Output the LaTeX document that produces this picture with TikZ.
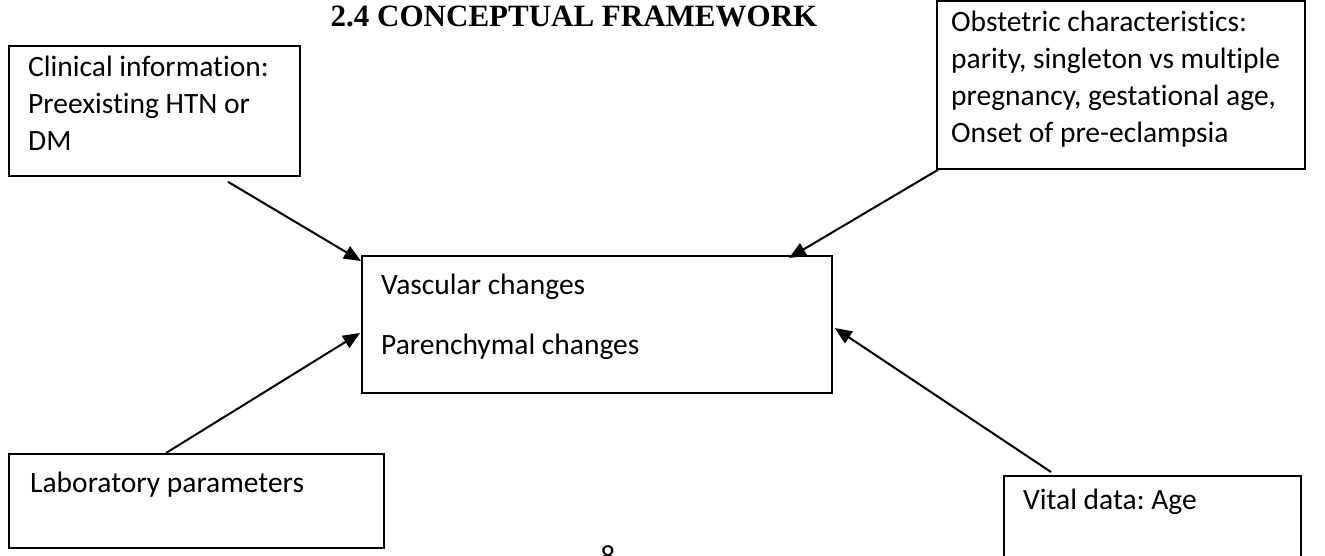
\documentclass[tikz,border=0pt]{standalone}
\usepackage{fontspec}
\setmainfont{Carlito}[Ligatures={NoCommon}]
\newfontfamily\titlefont{Liberation Serif}
\usetikzlibrary{arrows.meta,calc}
\frenchspacing
\begin{document}
\begin{tikzpicture}[x=1pt,y=-1pt,
  box/.style={draw,line width=1.8pt,inner sep=0pt,anchor=north west},
  txt/.style={inner sep=0pt,anchor=north west,align=left,font=\fontsize{29.5}{37}\selectfont},
  arr/.style={line width=2pt,-{Triangle[length=17pt,width=14pt]}}]
\useasboundingbox (0,0) rectangle (1325,556);
% title
\node[font=\titlefont\bfseries\fontsize{31}{31}\selectfont,inner sep=0pt] (title) at (574,16) {2.4 CONCEPTUAL FRAMEWORK};
% boxes
\node[box,minimum width=291pt,minimum height=130pt] (clin) at (8,45) {};
\node[box,minimum width=368pt,minimum height=168pt] (obst) at (936,0) {};
\node[box,minimum width=470pt,minimum height=137pt] (cent) at (361,255) {};
\node[box,minimum width=375pt,minimum height=94pt] (lab) at (8,453) {};
\node[box,minimum width=297pt,minimum height=120pt] (vital) at (1003,475) {};
% texts
\node[txt] (clintxt) at (28,56) {Clinical information:\\Preexisting HTN or\\DM};
\node[txt] (obsttxt) at (951,11) {Obstetric characteristics:\\parity, singleton vs multiple\\pregnancy, gestational age,\\Onset of pre-eclampsia};
\node[txt] (centtxt) at (381,274) {Vascular changes\\[23pt]Parenchymal changes};
\node[txt] (labtxt) at (30,472) {Laboratory parameters};
\node[txt] (vitaltxt) at (1023,489) {Vital data: Age};
\node[inner sep=0pt,anchor=north,font=\fontsize{29}{29}\selectfont] (pg) at (608,545) {8};
% connector end points
\coordinate (c1s) at ($(clin.south west)+(220,5)$);
\coordinate (c1e) at ($(cent.north west)+(0,6)$);
\coordinate (c2s) at ($(obst.south west)+(2,0)$);
\coordinate (c2e) at ($(cent.north west)+(428,3)$);
\coordinate (c3s) at ($(lab.north west)+(158,0)$);
\coordinate (c3e) at ($(cent.north west)+(-1,78)$);
\coordinate (c4s) at ($(vital.north west)+(48,-3)$);
\coordinate (c4e) at ($(cent.north east)+(2,73)$);
\draw[arr] (c1s) -- (c1e);
\draw[arr] (c2s) -- (c2e);
\draw[arr] (c3s) -- (c3e);
\draw[arr] (c4s) -- (c4e);
\end{tikzpicture}
\end{document}
